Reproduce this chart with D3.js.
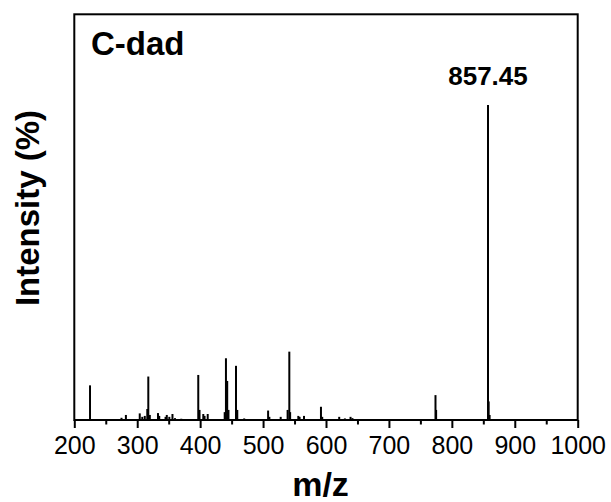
<!DOCTYPE html>
<html>
<head>
<meta charset="utf-8">
<script src="https://cdn.jsdelivr.net/npm/d3@7"></script>
<style>
  html, body { margin: 0; padding: 0; background: #fff; }
  svg { display: block; }
  text { font-family: Arial, "Liberation Sans", sans-serif; fill: #000; }
</style>
</head>
<body>
<div id="chart"></div>
<script>
// ---- data ----
const peakMz = [225, 275, 282, 304, 308, 312, 316, 317.6, 320, 333, 335, 345, 347, 351, 356, 360, 370,
  397, 399, 405, 407, 412, 439, 441, 443, 445, 457, 459, 470, 478,
  508, 510, 528, 539, 541.7, 543, 556, 558, 565, 592, 594, 621, 630, 639, 642,
  774, 775, 857.45, 858.5, 860];
const peakIntensity = [11.0, 0.7, 1.6, 2.1, 1.0, 1.3, 3.5, 13.8, 1.6, 2.2, 1.3, 1.0, 1.6, 1.0, 1.9, 0.6, 0.4,
  14.3, 3.2, 1.9, 1.3, 1.9, 2.5, 19.6, 12.4, 3.2, 17.2, 3.2, 0.5, 0.3,
  3.0, 1.0, 1.0, 3.2, 21.7, 2.5, 1.3, 1.0, 1.3, 4.2, 1.0, 1.0, 0.5, 1.0, 0.6,
  7.9, 3.2, 100, 5.9, 1.6];
const xTicks = [200, 300, 400, 500, 600, 700, 800, 900, 1000];
const xMinorTicks = [250, 350, 450, 550, 650, 750, 850, 950];
const labelPeak = { mz: 857.45, text: "857.45" };
const sampleName = "C-dad";
const xTitle = "m/z";
const yTitle = "Intensity (%)";

// ---- layout ----
const W = 611, H = 502;
const mLeft = 74.3, mRight = 577.7, mTop = 14.3, mBottom = 420;

const svg = d3.select("#chart").append("svg").attr("width", W).attr("height", H);

const x = d3.scaleLinear().domain([200, 1000]).range([mLeft, mRight]);
const y = d3.scaleLinear().domain([0, 128.8]).range([mBottom, mTop]);

// peaks
svg.append("g").selectAll("line").data(peakMz).join("line")
  .attr("x1", d => x(d)).attr("x2", d => x(d))
  .attr("y1", y(0))
  .attr("y2", (d, i) => y(peakIntensity[i]))
  .attr("stroke", "#000").attr("stroke-width", 2);

// frame
svg.append("rect").attr("x", mLeft).attr("y", mTop)
  .attr("width", mRight - mLeft).attr("height", mBottom - mTop)
  .attr("fill", "none").attr("stroke", "#000").attr("stroke-width", 2);

// x axis major
const ax = svg.append("g").attr("transform", `translate(0,${mBottom})`)
  .call(d3.axisBottom(x).tickValues(xTicks).tickSize(8).tickPadding(7).tickFormat(d3.format("d")));
ax.select(".domain").remove();
ax.selectAll(".tick line").attr("stroke", "#000").attr("stroke-width", 2);
ax.selectAll(".tick text").attr("font-size", 25).attr("font-family", "Arial, 'Liberation Sans', sans-serif")
  .attr("fill", "#000").attr("dy", null).attr("y", 34);

// x axis minor
const axm = svg.append("g").attr("transform", `translate(0,${mBottom})`)
  .call(d3.axisBottom(x).tickValues(xMinorTicks).tickSize(4.5).tickFormat(""));
axm.select(".domain").remove();
axm.selectAll(".tick line").attr("stroke", "#000").attr("stroke-width", 2);

// titles
svg.append("text").attr("x", 320.5).attr("y", 496).attr("text-anchor", "middle")
  .attr("font-size", 34).attr("font-weight", "bold").text(xTitle);

svg.append("text").attr("transform", `translate(39,208) rotate(-90)`).attr("text-anchor", "middle")
  .attr("font-size", 33).attr("font-weight", "bold").text(yTitle);

svg.append("text").attr("x", 91).attr("y", 55)
  .attr("font-size", 33).attr("font-weight", "bold").text(sampleName);

const ipk = peakMz.indexOf(labelPeak.mz);
svg.append("text").attr("x", x(labelPeak.mz)).attr("y", y(peakIntensity[ipk]) - 20)
  .attr("text-anchor", "middle").attr("font-size", 26).attr("font-weight", "bold").text(labelPeak.text);
</script>
</body>
</html>
